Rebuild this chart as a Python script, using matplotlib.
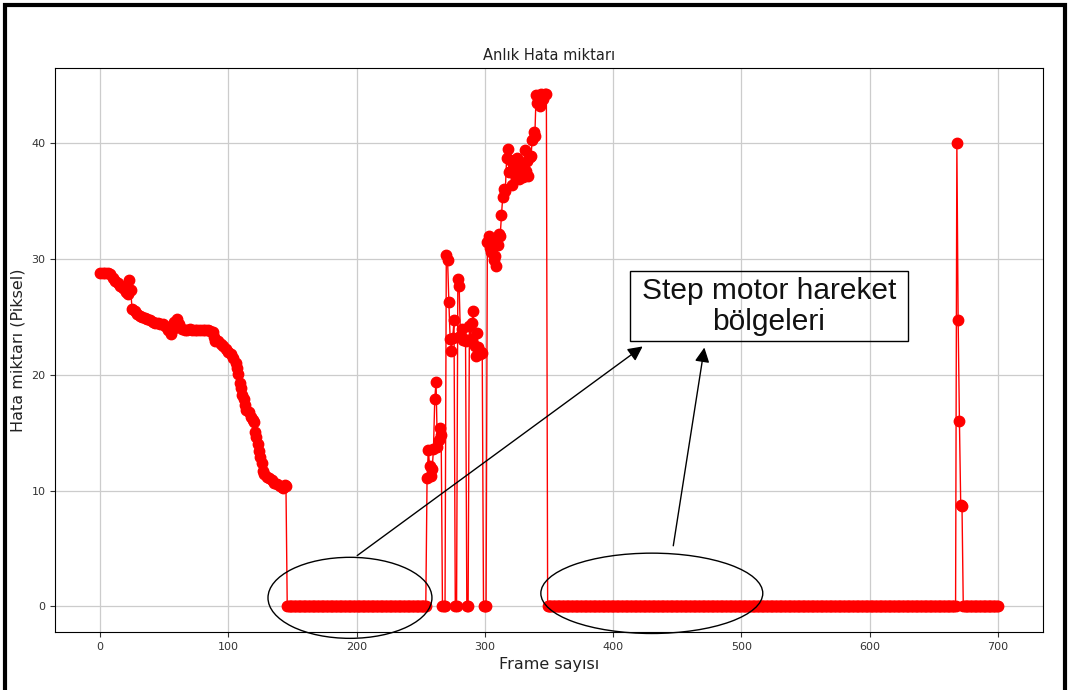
import matplotlib
matplotlib.use("Agg")
import matplotlib.pyplot as plt
import matplotlib.patches as mpatches

# Frame 0-145: slow decay of the error
decay_frames = [0, 2, 4, 6, 8, 10, 12, 14, 16, 18, 20, 22, 23, 24, 25, 27, 29, 31, 33, 35,
                37, 39, 41, 43, 45, 47, 49, 51, 53, 55, 57, 58, 60, 62, 64, 66, 68, 70, 72, 74,
                76, 78, 80, 82, 84, 86, 88, 89, 90, 92, 94, 96, 98, 100, 102, 104, 106, 107, 108, 109,
                110, 111, 112, 113, 114, 116, 118, 119, 120, 121, 122, 123, 124, 125, 126, 127, 128, 130, 132, 134,
                136, 138, 140, 142, 143, 144, 145]
decay_values = [28.8, 28.8, 28.8, 28.8, 28.7, 28.4, 28.1, 27.9, 27.7, 27.5, 27.2, 27.0, 28.2, 27.3, 25.7, 25.5, 25.3, 25.1, 25.0, 24.9,
                24.8, 24.7, 24.6, 24.5, 24.5, 24.4, 24.4, 24.2, 23.9, 23.5, 24.0, 24.6, 24.8, 24.4, 24.0, 23.9, 23.9, 24.0, 23.9, 23.9,
                23.9, 23.9, 23.9, 23.9, 23.9, 23.8, 23.7, 23.3, 22.9, 22.9, 22.7, 22.5, 22.2, 22.0, 21.8, 21.5, 21.0, 20.6, 20.1, 19.3,
                18.9, 18.3, 17.9, 17.4, 17.0, 16.8, 16.4, 16.1, 15.9, 15.1, 14.6, 14.0, 13.4, 12.9, 12.4, 11.7, 11.4, 11.2, 11.1, 10.9,
                10.7, 10.6, 10.4, 10.3, 10.2, 10.5, 10.4]

# Frame 146-254: step motor moving -> 0
still1_frames = list(range(146, 255))

# Frame 255-348: large errors with short drops
burst_frames = list(range(255, 349))
burst_values = [11.1, 13.5, 12.1, 11.3, 11.9, 13.6, 17.9, 19.4, 13.8, 14.4, 15.4, 14.8, 0, 0, 0, 30.4, 29.9, 26.3, 23.1, 22.1,
                23.2, 24.7, 0, 0, 28.3, 27.7, 23.4, 24.0, 23.0, 23.1, 22.9, 0, 0, 24.2, 23.1, 24.5, 25.5, 22.5, 21.6, 23.6,
                22.4, 21.8, 22.0, 21.9, 0, 0, 0, 31.5, 32.0, 31.0, 30.6, 31.4, 29.9, 30.3, 29.4, 31.2, 32.2, 32.0, 33.8, 35.4,
                36.1, 35.9, 38.7, 39.5, 37.5, 38.6, 36.4, 37.9, 38.3, 37.0, 38.7, 38.0, 36.9, 37.3, 38.2, 37.1, 39.4, 37.6, 38.5, 37.2,
                38.8, 38.9, 40.3, 41.0, 40.6, 44.2, 43.5, 44.0, 43.2, 44.3, 43.8, 44.2, 44.3, 44.3]

# Frame 349-667: step motor moving -> 0
still2_frames = list(range(349, 668))

# Frame 668-672: short spike
spike_frames = [668, 669, 670, 671, 672]
spike_values = [40.0, 24.7, 16.0, 8.8, 8.7]

# Frame 673-700: 0
still3_frames = list(range(673, 701))

frames = (decay_frames + still1_frames + burst_frames + still2_frames
          + spike_frames + still3_frames)
values = (decay_values + [0] * len(still1_frames) + burst_values
          + [0] * len(still2_frames) + spike_values + [0] * len(still3_frames))

fig = plt.figure(figsize=(10.69, 6.9), dpi=100)
ax = fig.add_axes([0.0515, 0.084, 0.924, 0.8175])

ax.plot(frames, values, color="red", marker="o", markersize=7.5, linewidth=1)
ax.grid(True, color="#cccccc", linewidth=0.9)
ax.set_axisbelow(True)

ax.set_title("Anlık Hata miktarı", fontsize=10.5, color="#222")
ax.set_xlabel("Frame sayısı", fontsize=11.5, color="#222")
ax.set_ylabel("Hata miktarı (Piksel)", fontsize=11.5, color="#222")
ax.tick_params(labelsize=8, colors="#333")
ax.set_xticks([0, 100, 200, 300, 400, 500, 600, 700])
ax.set_yticks([0, 10, 20, 30, 40])

# Annotation: ellipses around the step-motor regions
for cx, cy, w, h in [(194.9, 0.74, 127.8, 7.0), (430.2, 1.13, 173.0, 6.94)]:
    ax.add_patch(mpatches.Ellipse((cx, cy), w, h, fill=False, edgecolor="black",
                                  linewidth=1, clip_on=False, zorder=5))

# text box (grid shows through it)
ax.add_patch(mpatches.Rectangle((413.1, 22.9), 216.7, 6.08, fill=False,
                                edgecolor="black", linewidth=1, zorder=6))
ax.text(521.4, 25.9, "Step motor hareket\nbölgeleri", fontsize=21.5,
        family="Liberation Sans", ha="center", va="center", color="#111",
        linespacing=1.1, zorder=6)

for start, end in [((198.8, 4.25), (424.8, 22.6)), ((446.6, 5.0), (471.5, 22.6))]:
    ax.annotate("", xy=end, xytext=start,
                arrowprops=dict(arrowstyle="-|>", color="black", lw=1, mutation_scale=22),
                zorder=6)

# black frame round the picture
fig.patches.append(mpatches.Rectangle((0.0047, -0.05), 0.9916, 1.0428, transform=fig.transFigure,
                                      fill=False, edgecolor="black", linewidth=3))

fig.savefig("out.png", dpi=100, facecolor="white")
